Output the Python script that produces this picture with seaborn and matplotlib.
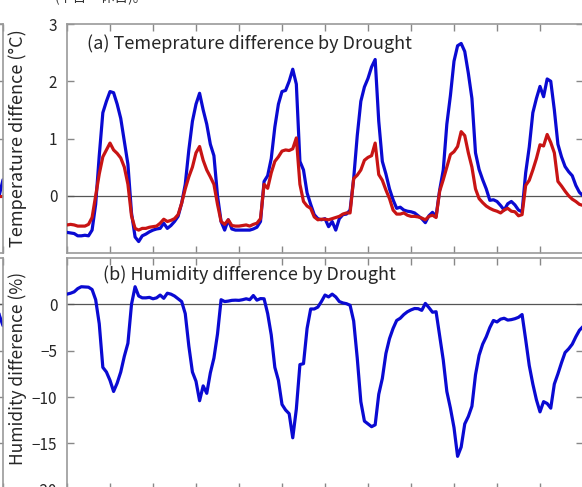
import matplotlib
matplotlib.use('Agg')
import matplotlib.pyplot as plt
import seaborn as sns

# Stunden (0..144, sechs Tage)
hours = list(range(145))

# (a) Temperaturdifferenz, blau und rot
temp_blue = [
    -0.64, -0.65, -0.66, -0.70, -0.70, -0.69, -0.70, -0.60, -0.15, 0.70, 1.45, 1.65,
    1.82, 1.80, 1.60, 1.35, 0.95, 0.55, -0.30, -0.72, -0.80, -0.70, -0.67, -0.63,
    -0.60, -0.58, -0.57, -0.48, -0.57, -0.52, -0.45, -0.36, -0.13, 0.20, 0.80, 1.30,
    1.60, 1.79, 1.50, 1.25, 0.90, 0.70, 0.00, -0.45, -0.60, -0.42, -0.58, -0.60,
    -0.60, -0.60, -0.60, -0.60, -0.58, -0.55, -0.45, 0.25, 0.35, 0.65, 1.20, 1.60,
    1.82, 1.84, 2.00, 2.21, 1.95, 0.60, 0.45, 0.05, -0.15, -0.33, -0.40, -0.42,
    -0.40, -0.54, -0.45, -0.60, -0.40, -0.33, -0.32, -0.25, 0.30, 1.05, 1.65, 1.90,
    2.05, 2.25, 2.38, 1.30, 0.60, 0.38, 0.12, -0.07, -0.22, -0.20, -0.25, -0.27,
    -0.28, -0.30, -0.35, -0.40, -0.47, -0.35, -0.29, -0.36, 0.10, 0.45, 1.25, 1.75,
    2.35, 2.62, 2.66, 2.52, 2.14, 1.70, 0.75, 0.46, 0.28, 0.12, -0.08, -0.07,
    -0.10, -0.17, -0.25, -0.14, -0.10, -0.16, -0.25, -0.28, 0.40, 0.85, 1.45, 1.70,
    1.91, 1.73, 2.04, 2.00, 1.50, 0.90, 0.68, 0.51, 0.42, 0.35, 0.18, 0.06, 0.00,
]
temp_red = [
    -0.51, -0.50, -0.51, -0.53, -0.53, -0.53, -0.50, -0.38, 0.00, 0.38, 0.68, 0.80,
    0.92, 0.80, 0.74, 0.66, 0.50, 0.20, -0.35, -0.57, -0.60, -0.57, -0.57, -0.55,
    -0.54, -0.53, -0.48, -0.41, -0.45, -0.43, -0.40, -0.33, -0.13, 0.12, 0.33, 0.50,
    0.75, 0.86, 0.62, 0.45, 0.33, 0.20, -0.15, -0.45, -0.50, -0.42, -0.52, -0.53,
    -0.53, -0.52, -0.51, -0.53, -0.50, -0.48, -0.40, 0.20, 0.13, 0.40, 0.60, 0.68,
    0.78, 0.80, 0.79, 0.82, 1.01, 0.20, -0.10, -0.18, -0.22, -0.37, -0.42, -0.41,
    -0.41, -0.42, -0.40, -0.38, -0.36, -0.32, -0.30, -0.30, 0.30, 0.36, 0.45, 0.62,
    0.67, 0.70, 0.92, 0.37, 0.27, 0.10, -0.05, -0.25, -0.32, -0.32, -0.30, -0.34,
    -0.36, -0.36, -0.37, -0.39, -0.42, -0.36, -0.34, -0.38, 0.08, 0.28, 0.50, 0.72,
    0.77, 0.86, 1.12, 1.05, 0.75, 0.50, 0.12, -0.05, -0.12, -0.18, -0.22, -0.25,
    -0.27, -0.30, -0.25, -0.22, -0.27, -0.28, -0.35, -0.33, 0.18, 0.27, 0.45, 0.65,
    0.89, 0.87, 1.07, 0.93, 0.75, 0.25, 0.17, 0.08, 0.00, -0.06, -0.10, -0.15, -0.17,
]

# (b) Feuchtedifferenz
humid = [
    1.10, 1.20, 1.35, 1.70, 1.90, 1.88, 1.85, 1.60, 0.50, -2.10, -6.80, -7.30,
    -8.20, -9.40, -8.50, -7.30, -5.60, -4.20, 0.00, 1.90, 0.90, 0.70, 0.70, 0.75,
    0.60, 0.70, 1.00, 0.65, 1.20, 1.10, 0.90, 0.60, 0.30, -1.00, -4.50, -7.30,
    -8.30, -10.40, -8.80, -9.60, -7.40, -5.80, -3.20, 0.50, 0.30, 0.35, 0.43, 0.45,
    0.43, 0.50, 0.60, 0.50, 0.95, 0.45, 0.62, 0.60, -1.00, -3.30, -6.80, -8.20,
    -10.80, -11.40, -11.80, -14.40, -11.30, -6.50, -6.40, -2.60, -0.50, -0.50, -0.30, 0.30,
    1.00, 0.80, 1.10, 0.80, 0.30, 0.15, 0.07, -0.10, -1.80, -5.80, -10.50, -12.60,
    -12.90, -13.20, -13.00, -9.70, -8.00, -5.30, -3.70, -2.60, -1.74, -1.50, -1.10, -0.80,
    -0.60, -0.45, -0.47, -0.65, 0.10, -0.35, -0.85, -0.80, -3.40, -6.00, -9.40, -11.20,
    -13.30, -16.40, -15.40, -12.90, -12.10, -11.00, -7.60, -5.50, -4.30, -3.50, -2.50, -1.74,
    -1.90, -1.60, -1.50, -1.70, -1.65, -1.55, -1.40, -1.10, -3.80, -6.60, -8.60, -10.30,
    -11.60, -10.50, -10.70, -11.20, -8.60, -7.50, -6.30, -5.20, -4.80, -4.30, -3.50, -2.80, -2.40,
]

# linkes Nachbarbild (nur das Ende sichtbar)
side_hours = [142, 143, 144]
side_temp_blue = [-0.30, 0.02, 0.28]
side_temp_red = [0.00, 0.00, 0.00]
side_humid = [0.50, -1.20, -2.30]

BLUE = '#0a0ad2'
RED = '#c81414'

sns.set_theme(style='white')
plt.rcParams['font.family'] = ['Noto Sans CJK JP', 'DejaVu Sans']

W, H = 582, 487
fig = plt.figure(figsize=(W / 100, H / 100), dpi=100)


def px_axes(x0, x1, y0, y1):
    return fig.add_axes([x0 / W, 1 - y1 / H, (x1 - x0) / W, (y1 - y0) / H])


def style(ax, ylim, yticks, labels=True):
    ax.set_xlim(0, 144)
    ax.set_ylim(*ylim)
    ax.set_xticks(range(0, 145, 12))
    ax.set_xticklabels([])
    ax.set_yticks(yticks)
    if not labels:
        ax.set_yticklabels([])
    ax.tick_params(direction='in', top=True, right=True, bottom=True, left=True,
                   length=5, width=1, color='#888888', labelsize=11, pad=7)
    for s in ax.spines.values():
        s.set_color('#9a9a9a')
        s.set_linewidth(1.2)
    ax.axhline(0, color='#555555', lw=0.9, zorder=1)
    ax.set_xlabel('')
    ax.set_ylabel('')


ax_t = px_axes(67, 583, 24, 253)
ax_h = px_axes(67, 583, 258, 489.7)
side_t = px_axes(-513, 3, 24, 253)
side_h = px_axes(-513, 3, 258, 489.7)

# Temperatur
sns.lineplot(x=hours, y=temp_blue, ax=ax_t, color=BLUE, lw=2.3, zorder=3)
sns.lineplot(x=hours, y=temp_red, ax=ax_t, color=RED, lw=2.3, zorder=4)
style(ax_t, (-1, 3), [0, 1, 2, 3])
ax_t.set_ylabel('Temperature diffence (°C)', fontsize=13)
ax_t.yaxis.set_label_coords(-0.078, 0.50)
ax_t.text(0.038, 0.915, '(a) Temeprature difference by Drought',
          transform=ax_t.transAxes, fontsize=13, va='center')

# Feuchte
sns.lineplot(x=hours, y=humid, ax=ax_h, color=BLUE, lw=2.3, zorder=3)
style(ax_h, (-20, 5), [-20, -15, -10, -5, 0])
ax_h.set_ylabel('Humidity difference (%)', fontsize=12.5)
ax_h.yaxis.set_label_coords(-0.078, 0.525)
ax_h.text(0.070, 0.927, '(b) Humidity difference by Drought',
          transform=ax_h.transAxes, fontsize=13, va='center')

# Nachbarbild links
sns.lineplot(x=side_hours, y=side_temp_blue, ax=side_t, color=BLUE, lw=2.3)
sns.lineplot(x=side_hours, y=side_temp_red, ax=side_t, color=RED, lw=2.3)
style(side_t, (-1, 3), [0, 1, 2, 3], labels=False)
sns.lineplot(x=side_hours, y=side_humid, ax=side_h, color=BLUE, lw=2.3)
style(side_h, (-20, 5), [-20, -15, -10, -5, 0], labels=False)

# abgeschnittene Bildunterschrift oben
fig.text(55 / W, 1 - 1.0 / H, '(平日・休日)。', fontsize=10, va='baseline', color='#333333')

fig.savefig('out.png', dpi=100)
